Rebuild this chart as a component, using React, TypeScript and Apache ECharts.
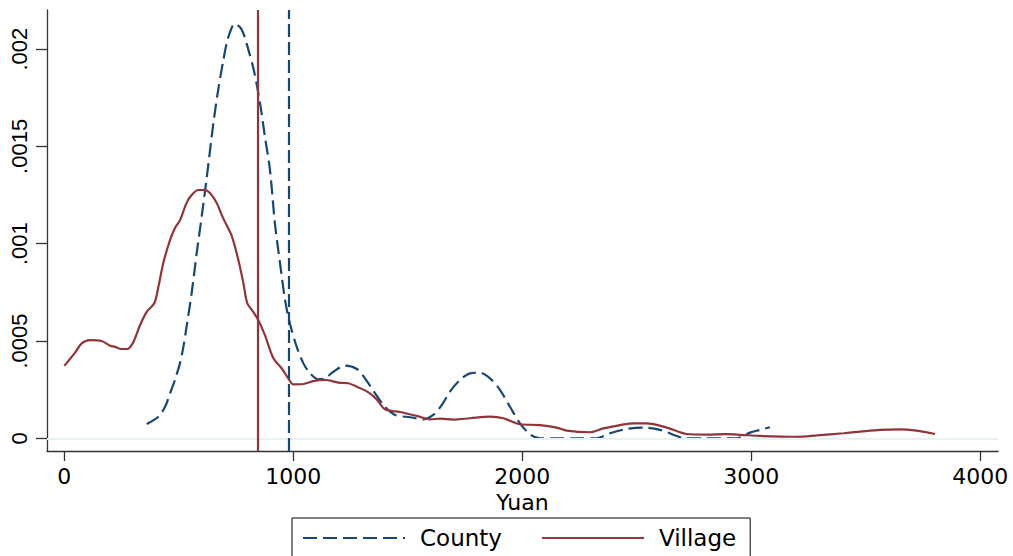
import React, { useEffect, useRef } from "react";
import * as echarts from "echarts";

const villageX = [0, 47, 76, 112, 163, 200, 221, 250, 275, 301, 331, 360, 393, 411, 432, 462, 483, 505, 534, 556, 585, 614, 636, 665, 694, 731, 760, 782, 799, 825, 847, 876, 913, 949, 978, 1000, 1044, 1087, 1138, 1197, 1240, 1277, 1328, 1364, 1400, 1466, 1539, 1597, 1641, 1699, 1772, 1859, 1917, 1990, 2077, 2150, 2194, 2296, 2354, 2427, 2485, 2543, 2631, 2718, 2805, 2893, 2951, 3038, 3198, 3286, 3402, 3475, 3562, 3649, 3722, 3802];
const villageY = [0.000372, 0.00044, 0.000488, 0.000505, 0.0005, 0.000476, 0.00047, 0.000459, 0.000459, 0.000493, 0.000582, 0.00065, 0.000694, 0.000779, 0.0009, 0.00102, 0.00108, 0.00112, 0.00121, 0.00125, 0.001276, 0.001276, 0.00126, 0.00121, 0.00113, 0.00104, 0.000916, 0.000797, 0.000694, 0.00065, 0.000608, 0.00053, 0.000411, 0.00036, 0.000308, 0.000277, 0.000279, 0.000294, 0.0003, 0.000286, 0.000283, 0.000265, 0.000236, 0.0002, 0.000149, 0.000135, 0.000115, 0.0000976, 0.000101, 0.000096, 0.000103, 0.000111, 0.000103, 0.000072, 0.000068, 0.000055, 0.000039, 0.000031, 0.000051, 0.000068, 0.000077, 0.000077, 0.000055, 0.000022, 0.000019, 0.000021, 0.000018, 0.000012, 0.000008, 0.000015, 0.000026, 0.000034, 0.000043, 0.000046, 0.000039, 0.000022];

const countyX = [360, 411, 440, 462, 483, 505, 520, 534, 556, 578, 600, 622, 651, 672, 694, 716, 745, 775, 803, 828, 855, 876, 898, 920, 942, 964, 985, 1015, 1044, 1073, 1109, 1138, 1175, 1226, 1277, 1313, 1357, 1400, 1444, 1510, 1568, 1611, 1648, 1684, 1728, 1772, 1815, 1859, 1903, 1946, 1990, 2034, 2077, 2150, 2250, 2325, 2383, 2456, 2528, 2601, 2674, 2703, 2800, 2936, 2994, 3038, 3081];
const countyY = [0.0000735, 0.000111, 0.000162, 0.000231, 0.0003, 0.000385, 0.00047, 0.000574, 0.000745, 0.00095, 0.00114, 0.00134, 0.00162, 0.00179, 0.00194, 0.00206, 0.00213, 0.0021, 0.002, 0.00189, 0.00172, 0.00155, 0.00138, 0.0011, 0.0009, 0.00071, 0.00059, 0.00047, 0.000385, 0.000334, 0.000303, 0.000308, 0.000342, 0.000373, 0.000356, 0.000308, 0.000231, 0.000162, 0.00012, 0.000108, 0.0000976, 0.00012, 0.00017, 0.00024, 0.0003, 0.000334, 0.000337, 0.000308, 0.000248, 0.000162, 0.000077, 0.00002, 0, 0, 0, 0, 0.000026, 0.000048, 0.000055, 0.000043, 0.000012, 0, 0, 0, 0.000029, 0.000043, 0.000057];

const xTicks = [0, 1000, 2000, 3000, 4000];
const yTicks = [0, 0.0005, 0.001, 0.0015, 0.002];
const countyMean = 978;
const villageMean = 846;

const NAVY = "#1a476f";
const MAROON = "#90353b";
const AXIS = "#333333";

export default function App() {
  const ref = useRef<HTMLDivElement>(null);
  useEffect(() => {
    if (!ref.current) return;
    const chart = echarts.init(ref.current, undefined, { renderer: "svg" });
    const option = {
      animation: false,
      backgroundColor: "#ffffff",
      grid: { left: 47, right: 15, top: 10, bottom: 105, containLabel: false },
      legend: {
        data: ["County", "Village"],
        left: 292,
        top: 518,
        orient: "horizontal",
        itemWidth: 102,
        itemHeight: 14,
        itemGap: 39,
        padding: [7, 14, 7, 10],
        borderColor: "#000000",
        borderWidth: 1,
        itemStyle: { opacity: 0 },
        textStyle: {
          fontFamily: "DejaVu Sans",
          fontSize: 23,
          color: "#000000",
          padding: [0, 0, 0, 10],
          lineHeight: 26,
        },
      },
      xAxis: {
        type: "value",
        min: -75.5,
        max: 4077,
        name: "Yuan",
        nameLocation: "middle",
        nameGap: 32,
        nameTextStyle: { fontFamily: "DejaVu Sans", fontSize: 22, color: "#000000" },
        axisLine: { show: true, onZero: false, lineStyle: { color: AXIS, width: 1.3 } },
        axisTick: { show: true, length: 10, customValues: xTicks, lineStyle: { color: AXIS, width: 1.3 } },
        axisLabel: {
          customValues: xTicks,
          margin: 14,
          fontFamily: "DejaVu Sans",
          fontSize: 22,
          color: "#000000",
          formatter: (v: number) => String(Math.round(v)),
        },
        splitLine: { show: false },
      },
      yAxis: {
        type: "value",
        min: -0.0000653,
        max: 0.002201,
        axisLine: { show: true, onZero: false, lineStyle: { color: AXIS, width: 1.3 } },
        axisTick: { show: true, length: 11, customValues: yTicks, lineStyle: { color: AXIS, width: 1.3 } },
        axisLabel: {
          customValues: yTicks,
          rotate: 90,
          margin: 17,
          fontFamily: "Liberation Sans",
          fontSize: 22,
          color: "#000000",
          formatter: (v: number) => (Math.abs(v) < 1e-12 ? "0" : String(+v.toFixed(6)).replace(/^0/, "")),
        },
        splitLine: { show: false },
      },
      series: [
        {
          name: "grid",
          type: "line",
          data: [],
          silent: true,
          z: 1,
          markLine: {
            silent: true,
            symbol: ["none", "none"],
            label: { show: false },
            lineStyle: { color: "#e8f0f2", width: 1.6, type: "solid" },
            data: yTicks.map((v) => ({ yAxis: v })),
          },
        },
        {
          name: "County",
          type: "line",
          z: 3,
          data: countyX.map((x, i) => [x, countyY[i]]),
          showSymbol: false,
          symbol: "none",
          smooth: 0.3,
          lineStyle: { color: NAVY, width: 2.2, type: [14, 6] },
          itemStyle: { color: NAVY },
          markLine: {
            silent: true,
            symbol: ["none", "none"],
            label: { show: false },
            lineStyle: { color: NAVY, width: 2.2, type: [13, 5] },
            data: [{ xAxis: countyMean }],
          },
        },
        {
          name: "Village",
          type: "line",
          z: 3,
          data: villageX.map((x, i) => [x, villageY[i]]),
          showSymbol: false,
          symbol: "none",
          smooth: 0.3,
          lineStyle: { color: MAROON, width: 2.2, type: "solid" },
          itemStyle: { color: MAROON },
          markLine: {
            silent: true,
            symbol: ["none", "none"],
            label: { show: false },
            lineStyle: { color: MAROON, width: 2.2, type: "solid" },
            data: [{ xAxis: villageMean }],
          },
        },
      ],
    };
    chart.setOption(option as any);
    return () => chart.dispose();
  }, []);
  return (
    <div
      ref={ref}
      style={{ position: "fixed", left: 0, top: 0, width: 1013, height: 556, background: "#fff" }}
    />
  );
}
